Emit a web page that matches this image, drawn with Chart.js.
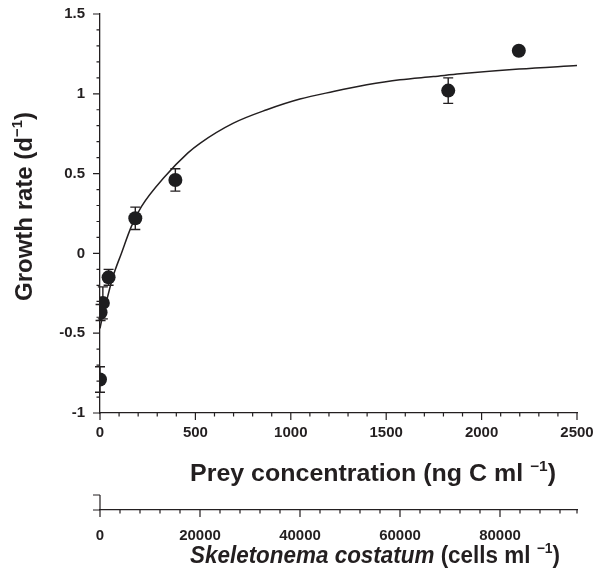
<!DOCTYPE html>
<html>
<head>
<meta charset="utf-8">
<script src="https://cdn.jsdelivr.net/npm/chart.js@4.4.1/dist/chart.umd.min.js"></script>
<style>
  body { margin: 0; background: #fff; }
  #wrap { width: 595px; height: 583px; position: relative; }
</style>
</head>
<body>
<div id="wrap"><canvas id="mycanvas"></canvas></div>
<script>
// measured growth rates (mean +- error) vs prey concentration, ng C ml-1
var preyConc   = [0, 3, 15, 45, 185, 395, 1825, 2195];
var growthRate = [-0.79, -0.37, -0.31, -0.15, 0.22, 0.46, 1.02, 1.27];
var growthErr  = [0.08, 0.05, 0.10, 0.05, 0.07, 0.07, 0.08, 0.02];

// fitted curve
var fitConc = [0, 12, 38, 68, 112, 164, 217, 339, 461, 524, 699, 874, 1048, 1223, 1398, 1572, 1747, 1887, 2196, 2500];
var fitRate = [-0.47, -0.40, -0.28, -0.145, 0.0, 0.168, 0.293, 0.48, 0.63, 0.69, 0.816, 0.90, 0.967, 1.014, 1.056, 1.088, 1.108, 1.125, 1.155, 1.177];

// axis ticks
var xTicks = [0, 500, 1000, 1500, 2000, 2500];
var yTicks = [-1, -0.5, 0, 0.5, 1, 1.5];
var cellTicks = [0, 20000, 40000, 60000, 80000];
var cellMax = 95400;   // cells ml-1 at the right end of the prey axis

var ink = '#231f20';
var fontName = '"Liberation Sans", Arial, Helvetica, sans-serif';

function pairs(xs, ys) {
  var out = [];
  for (var i = 0; i < xs.length; i++) out.push({x: xs[i], y: ys[i]});
  return out;
}

function fixTicks(list) {
  return function(scale) {
    scale.ticks = list.map(function(v) { return {value: v}; });
  };
}

// fixed box size, no extra label padding
function boxSize(w, h) {
  return function(s) {
    if (w) s.width = w;
    if (h) s.height = h;
    s.paddingTop = 0; s.paddingBottom = 0;
    s.paddingLeft = 0; s.paddingRight = 0;
  };
}

// text with italic parts and superscripts
function richWidth(ctx, parts, size) {
  var w = 0;
  parts.forEach(function(p) {
    ctx.font = (p.it ? 'italic ' : '') + 'bold ' + (p.sup ? size * 0.62 : size) + 'px ' + fontName;
    w += ctx.measureText(p.t).width;
  });
  return w;
}
function richDraw(ctx, parts, size) {
  var x = 0;
  parts.forEach(function(p) {
    ctx.font = (p.it ? 'italic ' : '') + 'bold ' + (p.sup ? size * 0.62 : size) + 'px ' + fontName;
    ctx.fillText(p.t, x, p.sup ? -size * 0.42 : 0);
    x += ctx.measureText(p.t).width;
  });
}

var preyTitle = [{t: 'Prey concentration (ng C ml '}, {t: '\u22121', sup: true}, {t: ')'}];
var cellTitle = [{t: 'Skeletonema costatum', it: true}, {t: ' (cells ml '}, {t: '\u22121', sup: true}, {t: ')'}];
var rateTitle = [{t: 'Growth rate (d'}, {t: '\u22121', sup: true}, {t: ')'}];

var decor = {
  id: 'decor',
  beforeDatasetsDraw: function(chart) {
    var ctx = chart.ctx, xs = chart.scales.x, ys = chart.scales.y;
    ctx.save();
    ctx.strokeStyle = ink;
    ctx.lineWidth = 1.4;
    for (var i = 0; i < preyConc.length; i++) {
      var px = xs.getPixelForValue(preyConc[i]);
      var top = ys.getPixelForValue(growthRate[i] + growthErr[i]);
      var bot = ys.getPixelForValue(growthRate[i] - growthErr[i]);
      ctx.beginPath();
      ctx.moveTo(px, top); ctx.lineTo(px, bot);
      ctx.moveTo(px - 5, top); ctx.lineTo(px + 5, top);
      ctx.moveTo(px - 5, bot); ctx.lineTo(px + 5, bot);
      ctx.stroke();
    }
    ctx.restore();
  },
  afterDraw: function(chart) {
    var ctx = chart.ctx;
    var xs = chart.scales.x, ys = chart.scales.y, x2 = chart.scales.x2;
    var k, p, len;
    ctx.save();
    ctx.strokeStyle = ink;
    ctx.lineWidth = 1.2;
    ctx.beginPath();
    // prey axis ticks, every 100
    for (k = 0; k <= 25; k++) {
      p = xs.getPixelForValue(k * 100);
      len = k % 5 === 0 ? 7 : 3.5;
      ctx.moveTo(p, xs.top); ctx.lineTo(p, xs.top + len);
    }
    // growth axis ticks, every 0.1
    for (k = 0; k <= 25; k++) {
      p = ys.getPixelForValue(-1 + k * 0.1);
      len = k % 5 === 0 ? 7 : 3.5;
      ctx.moveTo(ys.right, p); ctx.lineTo(ys.right - len, p);
    }
    // cell axis ticks, every 4000
    for (k = 0; k * 4000 <= cellMax; k++) {
      p = x2.getPixelForValue(k * 4000);
      len = k % 5 === 0 ? 7 : 3.5;
      ctx.moveTo(p, x2.top); ctx.lineTo(p, x2.top + len);
    }
    p = x2.getPixelForValue(cellMax);
    ctx.moveTo(p, x2.top); ctx.lineTo(p, x2.top + 3.5);
    // small stub above the cell axis
    ctx.moveTo(x2.left, x2.top - 15); ctx.lineTo(x2.left, x2.top);
    ctx.moveTo(x2.left - 7, x2.top - 15); ctx.lineTo(x2.left, x2.top - 15);
    ctx.moveTo(x2.left - 7, x2.top); ctx.lineTo(x2.left, x2.top);
    ctx.stroke();

    // axis titles
    ctx.fillStyle = ink;
    ctx.textBaseline = 'alphabetic';
    ctx.textAlign = 'left';
    var size = 23, w, sx;

    w = richWidth(ctx, preyTitle, size);
    sx = 366 / w;
    ctx.save();
    ctx.translate(xs.left + 90, xs.top + 68);
    ctx.scale(sx, 1);
    richDraw(ctx, preyTitle, size);
    ctx.restore();

    w = richWidth(ctx, cellTitle, size);
    sx = 370 / w;
    ctx.save();
    ctx.translate(x2.left + 90, x2.top + 53);
    ctx.scale(sx, 1);
    richDraw(ctx, cellTitle, size);
    ctx.restore();

    w = richWidth(ctx, rateTitle, 24);
    ctx.save();
    ctx.translate(32, (ys.top + ys.bottom) / 2 - 7 + w / 2);
    ctx.rotate(-Math.PI / 2);
    richDraw(ctx, rateTitle, 24);
    ctx.restore();

    ctx.restore();
  }
};

var tickFont = {family: fontName, size: 15, weight: 'bold'};

var chart = new Chart(document.getElementById('mycanvas'), {
  type: 'scatter',
  data: {
    datasets: [
      {
        label: 'Points',
        data: pairs(preyConc, growthRate),
        pointRadius: 7,
        pointHoverRadius: 7,
        pointBackgroundColor: '#1d1d1f',
        pointBorderWidth: 0,
        showLine: false
      },
      {
        label: 'Fit',
        data: pairs(fitConc, fitRate),
        showLine: true,
        pointRadius: 0,
        borderColor: ink,
        borderWidth: 1.5,
        tension: 0.4,
        cubicInterpolationMode: 'monotone'
      }
    ]
  },
  options: {
    responsive: true,
    maintainAspectRatio: false,
    animation: false,
    layout: {padding: {top: 14, right: 18, left: 0, bottom: 0}},
    plugins: {legend: {display: false}, tooltip: {enabled: false}},
    scales: {
      x: {
        type: 'linear',
        position: 'bottom',
        weight: 0,
        min: 0,
        max: 2500,
        afterBuildTicks: fixTicks(xTicks),
        afterFit: boxSize(0, 97),
        grid: {display: false, drawTicks: false},
        border: {display: true, color: ink, width: 1.3},
        ticks: {
          font: tickFont, color: ink, padding: 11, maxRotation: 0,
          callback: function(v) { return String(v); }
        }
      },
      x2: {
        type: 'linear',
        position: 'bottom',
        weight: 1,
        min: 0,
        max: cellMax,
        afterBuildTicks: fixTicks(cellTicks),
        afterFit: boxSize(0, 73),
        grid: {display: false, drawTicks: false},
        border: {display: true, color: ink, width: 1.3},
        ticks: {
          font: tickFont, color: ink, padding: 17, maxRotation: 0,
          callback: function(v) { return String(v); }
        }
      },
      y: {
        type: 'linear',
        min: -1,
        max: 1.5,
        afterBuildTicks: fixTicks(yTicks),
        afterFit: boxSize(100, 0),
        grid: {display: false, drawTicks: false},
        border: {display: true, color: ink, width: 1.3},
        ticks: {
          font: tickFont, color: ink, padding: 15,
          callback: function(v) { return String(v); }
        }
      }
    }
  },
  plugins: [decor]
});
</script>
</body>
</html>
